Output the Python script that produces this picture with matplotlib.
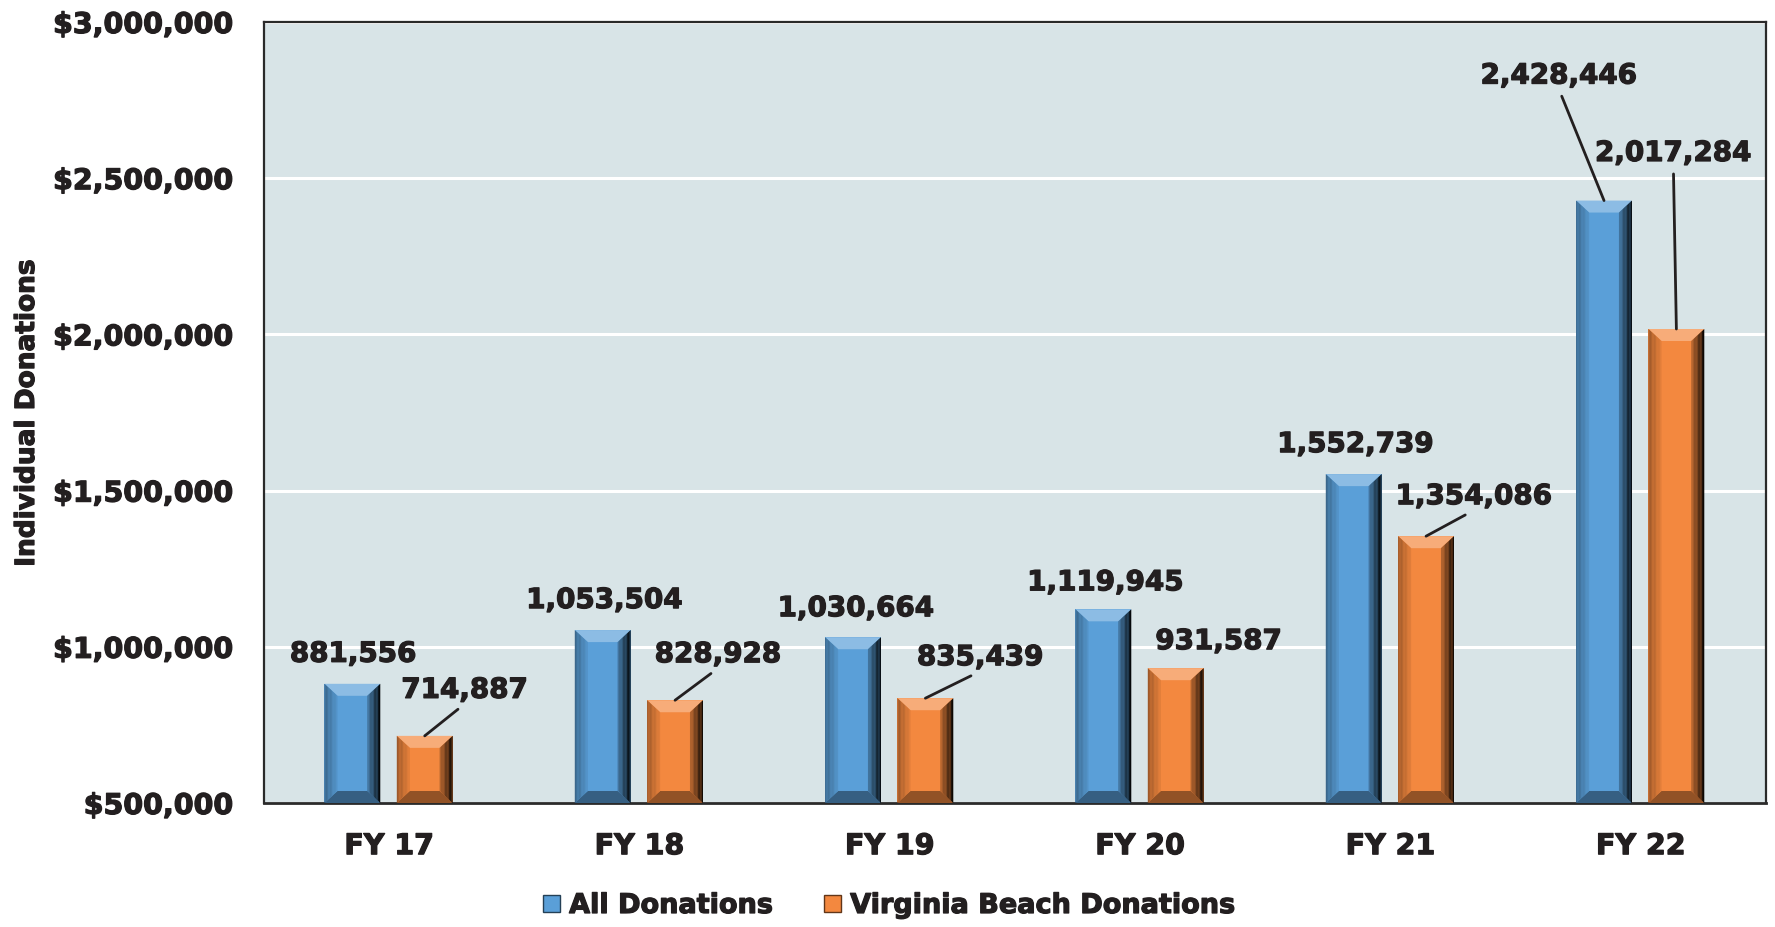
import matplotlib
matplotlib.use("Agg")
import matplotlib.pyplot as plt
import matplotlib.patheffects as pe
from matplotlib.patches import Polygon, Patch
from matplotlib.ticker import FuncFormatter
from matplotlib.colors import to_rgb
import numpy as np

# Donation totals per fiscal year
years = ["FY 17", "FY 18", "FY 19", "FY 20", "FY 21", "FY 22"]
all_donations = [881556, 1053504, 1030664, 1119945, 1552739, 2428446]
vb_donations = [714887, 828928, 835439, 931587, 1354086, 2017284]
series_names = ["All Donations", "Virginia Beach Donations"]

# label offsets from the bar top (pixels) and whether a leader line is drawn
all_offsets = [(1, 30), (2, 30), (3, 29), (2, 27), (2, 30), (-45, 125)]
all_leaders = [False, False, False, False, False, True]
vb_offsets = [(40, 46), (43, 46), (55, 41), (43, 27), (48, 40), (-3, 176)]
vb_leaders = [True, True, True, False, True, True]

BLUE = "#5A9FD8"
ORANGE = "#F3883F"
INK = "#231F20"
FONT = "DejaVu Sans"
heavy = [pe.withStroke(linewidth=0.9, foreground=INK)]

plt.rcParams["font.family"] = FONT
plt.rcParams["font.weight"] = "bold"

fig = plt.figure(figsize=(17.75, 9.27), dpi=100)
W, H = 1775, 927
ax = fig.add_axes([264 / W, 1 - 803 / H, (1766 - 264) / W, (803 - 22) / H])
ax.set_facecolor("#D8E4E7")

x = np.arange(len(years))
width = 0.223
b1 = ax.bar(x - 0.147, all_donations, width, bottom=0, color=BLUE, zorder=2)
b2 = ax.bar(x + 0.142, vb_donations, width, bottom=0, color=ORANGE, zorder=2)

ax.set_xlim(-0.5, len(years) - 0.5)
ax.set_ylim(500000, 3000000)
ax.set_yticks(np.arange(500000, 3000001, 500000))
ax.yaxis.set_major_formatter(FuncFormatter(lambda v, p: f"${v:,.0f}"))
ax.grid(axis="y", color="white", linewidth=2.2, zorder=1)
ax.set_axisbelow(True)
ax.tick_params(axis="y", length=0, pad=22, labelsize=20.5, labelcolor=INK)
ax.tick_params(axis="x", length=0, pad=21, labelsize=20.5, labelcolor=INK)
ax.set_xticks(x)
ax.set_xticklabels(years)
for t in ax.get_xticklabels() + ax.get_yticklabels():
    t.set_path_effects(heavy)
for s in ax.spines.values():
    s.set_color("#2a2a2a")
    s.set_linewidth(1.6)
ax.spines["bottom"].set_linewidth(2)

fig.text(27 / W, 1 - 413 / H, "Individual Donations", rotation=90,
         ha="center", va="center", fontsize=19, color=INK, path_effects=heavy)


def shade(c, f):
    r = np.array(to_rgb(c))
    if f >= 0:
        return tuple(r + (1 - r) * f)
    return tuple(r * (1 + f))


# bevelled look for each bar
def bevel(bars, color):
    fig.canvas.draw()
    inv = ax.transData.inverted()
    for p in bars.patches:
        x0, y0 = p.get_x(), max(p.get_y(), 500000)
        x1, y1 = x0 + p.get_width(), p.get_y() + p.get_height()
        px0 = ax.transData.transform((x0, y0))
        dpt = inv.transform(px0 + np.array([13, 12]))
        dx, dy = dpt[0] - x0, dpt[1] - y0
        s = dy / dx
        ax.add_patch(Polygon([(x0, y1), (x1, y1), (x1 - dx, y1 - dy), (x0 + dx, y1 - dy)],
                             color=shade(color, 0.3), lw=0, zorder=3))
        ax.add_patch(Polygon([(x0, y0), (x1, y0), (x1 - dx, y0 + dy), (x0 + dx, y0 + dy)],
                             color=shade(color, -0.4), lw=0, zorder=3))
        n = 10
        for k in range(n):
            # left side: darker at the edge, blending into the face
            xa = x0 + k * dx / n
            xb = x0 + (k + 1) * dx / n
            c = shade(color, -0.35 + 0.3 * k / n)
            ax.add_patch(Polygon([(xa, y0 + (xa - x0) * s), (xb, y0 + (xb - x0) * s),
                                  (xb, y1 - (xb - x0) * s), (xa, y1 - (xa - x0) * s)],
                                 color=c, lw=0, zorder=3))
            # right side: face colour fading to near black
            xa = x1 - dx + k * dx / n
            xb = x1 - dx + (k + 1) * dx / n
            c = shade(color, -0.2 - 0.75 * (k + 1) / n)
            ax.add_patch(Polygon([(xa, y0 + (x1 - xa) * s), (xb, y0 + (x1 - xb) * s),
                                  (xb, y1 - (x1 - xb) * s), (xa, y1 - (x1 - xa) * s)],
                                 color=c, lw=0, zorder=3))


bevel(b1, BLUE)
bevel(b2, ORANGE)


def label(bars, values, offsets, leaders):
    for p, v, off, lead in zip(bars.patches, values, offsets, leaders):
        xc = p.get_x() + p.get_width() / 2
        kw = {}
        if lead:
            kw["arrowprops"] = dict(arrowstyle="-", color=INK, lw=2, relpos=(0.5, 0),
                                    shrinkA=3, shrinkB=0)
        ax.annotate(f"{v:,}", xy=(xc, v), xytext=off, textcoords="offset pixels",
                    ha="center", va="center", fontsize=20, color=INK, zorder=5,
                    path_effects=heavy, **kw)


label(b1, all_donations, all_offsets, all_leaders)
label(b2, vb_donations, vb_offsets, vb_leaders)

handles = [Patch(facecolor=BLUE, edgecolor=shade(BLUE, -0.6)),
           Patch(facecolor=ORANGE, edgecolor=shade(ORANGE, -0.6))]
leg = fig.legend(handles, series_names, loc="center", bbox_to_anchor=(0.501, 1 - 906 / H),
                 ncol=2, frameon=False, fontsize=19.5, handlelength=0.6, handleheight=0.6,
                 handletextpad=0.35, columnspacing=1.9, labelcolor=INK)
for t in leg.get_texts():
    t.set_path_effects(heavy)

fig.savefig("out.png", dpi=100)
